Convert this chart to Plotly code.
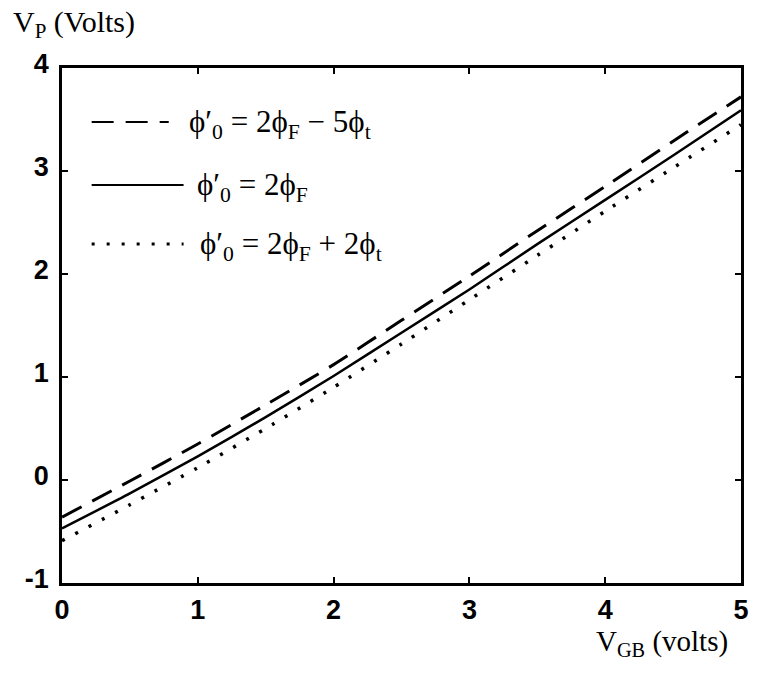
import plotly.graph_objects as go

# Gate-to-bulk voltage sweep (volts)
v_gb = [0.0, 0.5, 1.0, 1.5, 2.0, 2.5, 3.0, 3.5, 4.0, 4.5, 5.0]

# Pinch-off voltage V_P for three choices of phi0'
vp_minus5 = [-0.36, -0.01, 0.35, 0.73, 1.12, 1.55, 1.98, 2.42, 2.85, 3.29, 3.72]   # 2phiF - 5phit
vp_nominal = [-0.47, -0.13, 0.23, 0.61, 1.01, 1.43, 1.85, 2.29, 2.72, 3.15, 3.59]  # 2phiF
vp_plus2 = [-0.59, -0.24, 0.12, 0.50, 0.90, 1.32, 1.75, 2.18, 2.61, 3.03, 3.45]    # 2phiF + 2phit

x_ticks = [0, 1, 2, 3, 4, 5]
y_ticks = [-1, 0, 1, 2, 3, 4]

legend_labels = [
    "ϕ′<sub>0</sub> = 2ϕ<sub>F</sub> − 5ϕ<sub>t</sub>",
    "ϕ′<sub>0</sub> = 2ϕ<sub>F</sub>",
    "ϕ′<sub>0</sub> = 2ϕ<sub>F</sub> + 2ϕ<sub>t</sub>",
]

serif = "Liberation Serif, Times New Roman, serif"
sans = "Liberation Sans, Arial, sans-serif"

fig = go.Figure()
series = [
    (vp_minus5, dict(color="black", width=3, dash="22px,12px")),
    (vp_nominal, dict(color="black", width=2.5, dash="solid")),
    (vp_plus2, dict(color="black", width=3.5, dash="3px,12px")),
]
for ys, line in series:
    fig.add_trace(go.Scatter(x=v_gb, y=ys, mode="lines",
                             line=dict(shape="spline", smoothing=0.6, **line),
                             showlegend=False, hoverinfo="skip"))

# Hand-placed key in the upper-left corner of the plot
W, H, L, T = 687.0, 515.0, 62.0, 68.0
def px_x(p):
    return (p - L) / W
def px_y(p):
    return 1 - (p - T) / H

key_rows = [
    (122, 170, 188, dict(color="black", width=2, dash="22px,12px")),
    (185, 185, 197, dict(color="black", width=2, dash="solid")),
    (244, 185, 200, dict(color="black", width=3, dash="3px,12px")),
]
for (yy, x_end, x_txt, line), label in zip(key_rows, legend_labels):
    fig.add_shape(type="line", xref="paper", yref="paper",
                  x0=px_x(92), x1=px_x(x_end), y0=px_y(yy), y1=px_y(yy),
                  line=line)
    fig.add_annotation(text=label, xref="paper", yref="paper",
                       x=px_x(x_txt), y=px_y(yy + 2), xanchor="left", yanchor="middle",
                       showarrow=False, font=dict(family=serif, size=31, color="black"))

# Axis titles
fig.add_annotation(text="V<sub>P</sub> (Volts)", xref="paper", yref="paper",
                   x=px_x(10), y=px_y(24), xanchor="left", yanchor="middle",
                   showarrow=False, font=dict(family=serif, size=30, color="black"))
fig.add_annotation(text="V<sub>GB</sub> (volts)", xref="paper", yref="paper",
                   x=px_x(600), y=px_y(643), xanchor="left", yanchor="middle",
                   showarrow=False, font=dict(family=serif, size=29, color="black"))

axis_common = dict(showline=True, linecolor="black", linewidth=2.5, mirror="ticks",
                   ticks="inside", ticklen=6, tickwidth=2, tickcolor="black",
                   showgrid=False, zeroline=False,
                   tickfont=dict(family=sans, size=27, color="black", weight="bold"))

fig.update_xaxes(range=[0, 5], tickvals=x_ticks, ticktext=[str(v) for v in x_ticks],
                 ticklabelstandoff=1, **axis_common)
fig.update_yaxes(range=[-1, 4], tickvals=y_ticks, ticktext=[str(v) for v in y_ticks],
                 ticklabelstandoff=5, ticklabelshift=-4, **axis_common)

fig.update_layout(width=760, height=683, margin=dict(l=62, r=11, t=68, b=100),
                  plot_bgcolor="white", paper_bgcolor="white",
                  font=dict(family=sans, color="black"))

fig.write_html("out.html")
